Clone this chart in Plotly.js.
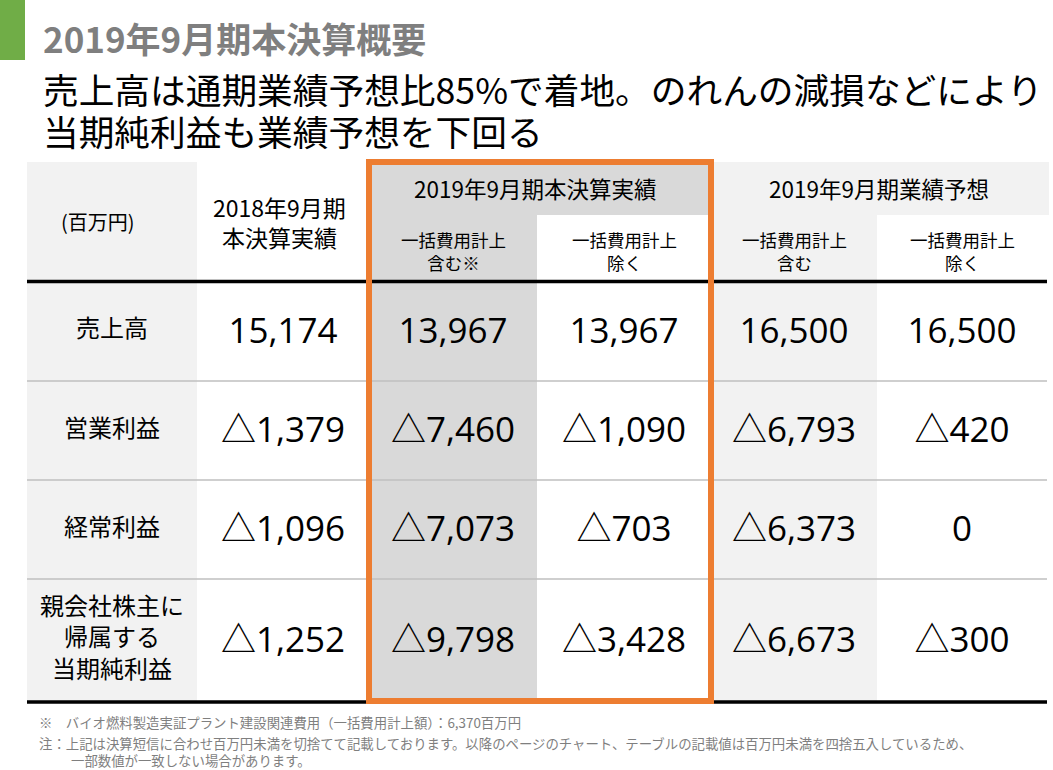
<!DOCTYPE html>
<html>
<head>
<meta charset="utf-8">
<script src="https://cdn.plot.ly/plotly-3.0.1.min.js"></script>
<style>html,body{margin:0;padding:0;background:#fff;}#chart{width:1053px;height:770px;}</style>
</head>
<body>
<div id="chart"></div>
<script>
// ---- data ----
const pageTitle = "2019年9月期本決算概要";
const headline = ["売上高は通期業績予想比85%で着地。のれんの減損などにより", "当期純利益も業績予想を下回る"];
const unitLabel = "(百万円)";
const rowLabels = ["売上高", "営業利益", "経常利益", "親会社株主に<br>帰属する<br>当期純利益"];
const groupHeaders = ["2019年9月期本決算実績", "2019年9月期業績予想"];
const prevHeader = "2018年9月期<br>本決算実績";
const subHeaders = ["一括費用計上<br>含む※", "一括費用計上<br>除く", "一括費用計上<br>含む", "一括費用計上<br>除く"];
const fy2018Actual = [15174, -1379, -1096, -1252];
const fy2019ActualIncl = [13967, -7460, -7073, -9798];
const fy2019ActualExcl = [13967, -1090, -703, -3428];
const fy2019ForecastIncl = [16500, -6793, -6373, -6673];
const fy2019ForecastExcl = [16500, -420, 0, -300];
const footnotes = [
  "※　バイオ燃料製造実証プラント建設関連費用（一括費用計上額）：6,370百万円",
  "注：上記は決算短信に合わせ百万円未満を切捨てて記載しております。以降のページのチャート、テーブルの記載値は百万円未満を四捨五入しているため、",
  "一部数値が一致しない場合があります。"
];

// ---- layout geometry ----
const FONT = "Open Sans, Noto Sans CJK JP, sans-serif";
const JFONT = "Noto Sans CJK JP, sans-serif";
const colEdges = [27, 197, 369, 537, 711, 877, 1047];
const headTop = 162, subTop = 215, headBottom = 281.5;
const rowEdges = [281.5, 381, 480, 579, 702];
const colCenter = i => (colEdges[i] + colEdges[i + 1]) / 2;
const rowCenter = i => (rowEdges[i] + rowEdges[i + 1]) / 2;

function fmt(v) {
  const s = Math.abs(v).toLocaleString("en-US");
  return v < 0 ? "△" + s : s;
}

const valueCols = [fy2018Actual, fy2019ActualIncl, fy2019ActualExcl, fy2019ForecastIncl, fy2019ForecastExcl];
const traces = [];
valueCols.forEach((arr, k) => {
  traces.push({
    type: "scatter", mode: "text",
    x: arr.map(() => colCenter(k + 1)),
    y: arr.map((_, i) => rowCenter(i) + 3),
    text: arr.map(fmt),
    textposition: "middle center",
    textfont: {family: FONT, size: 35, color: "#000"},
    hoverinfo: "skip", showlegend: false, cliponaxis: false
  });
});
traces.push({
  type: "scatter", mode: "text",
  x: rowLabels.map(() => colCenter(0)),
  y: rowLabels.map((_, i) => rowCenter(i)),
  text: rowLabels,
  textposition: "middle center",
  textfont: {family: JFONT, size: 24, color: "#000"},
  hoverinfo: "skip", showlegend: false, cliponaxis: false
});

// ---- shapes ----
const shapes = [];
function rect(x0, x1, y0, y1, fill) {
  shapes.push({type: "rect", xref: "x", yref: "y", x0, x1, y0, y1, fillcolor: fill, line: {width: 0}, layer: "below"});
}
rect(0, 25, 0, 60, "#70ad47");
rect(colEdges[0], colEdges[1], headTop, rowEdges[4], "#f2f2f2");
rect(colEdges[2], colEdges[3], headTop, rowEdges[4], "#d9d9d9");
rect(colEdges[3], colEdges[4], headTop, subTop, "#d9d9d9");
rect(colEdges[4], colEdges[5], headTop, rowEdges[4], "#f2f2f2");
rect(colEdges[5], colEdges[6] + 2, headTop, subTop, "#f2f2f2");
function hline(y, color, w) {
  shapes.push({type: "line", xref: "x", yref: "y", x0: colEdges[0], x1: colEdges[6], y0: y, y1: y, line: {color, width: w}, layer: "above"});
}
for (let i = 1; i < rowEdges.length - 1; i++) hline(rowEdges[i], "#bfbfbf", 1.5);
hline(headBottom, "#000", 3.5);
hline(rowEdges[4], "#000", 3.5);
shapes.push({type: "rect", xref: "x", yref: "y", x0: colEdges[2], x1: colEdges[4], y0: headTop, y1: rowEdges[4] - 1,
  line: {color: "#ed7d31", width: 6}, fillcolor: "rgba(0,0,0,0)", layer: "above"});

// ---- annotations ----
const ann = [];
function txt(text, x, y, size, opts = {}) {
  ann.push(Object.assign({text, x, y, xref: "x", yref: "y", showarrow: false,
    xanchor: "center", yanchor: "middle", align: "center",
    font: {family: JFONT, size, color: "#000"}}, opts));
}
const noteFont = {family: JFONT, size: 13.4, color: "#7f7f7f"};
txt(pageTitle, 41, 37, 35, {xanchor: "left", font: {family: JFONT, size: 35, color: "#7f7f7f", weight: 700}});
txt(headline[0], 41, 88, 35.7, {xanchor: "left", align: "left"});
txt(headline[1], 41, 130, 35.7, {xanchor: "left", align: "left"});
txt(unitLabel, 98, 221, 20);
txt(prevHeader, colCenter(1) - 4, 222, 23);
txt(groupHeaders[0], (colEdges[2] + colEdges[4]) / 2 - 5, 188, 22.5);
txt(groupHeaders[1], (colEdges[4] + colEdges[6]) / 2, 188, 22.5);
subHeaders.forEach((s, i) => txt(s, colCenter(i + 2), 251, 17.5));
txt(footnotes[0], 37, 722, 13.4, {xanchor: "left", align: "left", font: noteFont});
txt(footnotes[1], 37, 743, 13.4, {xanchor: "left", align: "left", font: noteFont});
txt(footnotes[2], 69, 760, 13.4, {xanchor: "left", align: "left", font: noteFont});

const layout = {
  width: 1053, height: 770,
  margin: {l: 0, r: 0, t: 0, b: 0, pad: 0},
  paper_bgcolor: "#fff", plot_bgcolor: "#fff",
  xaxis: {range: [0, 1053], visible: false, fixedrange: true},
  yaxis: {range: [770, 0], visible: false, fixedrange: true},
  shapes, annotations: ann, showlegend: false
};
Plotly.newPlot("chart", traces, layout, {staticPlot: true, displayModeBar: false});
</script>
</body>
</html>
